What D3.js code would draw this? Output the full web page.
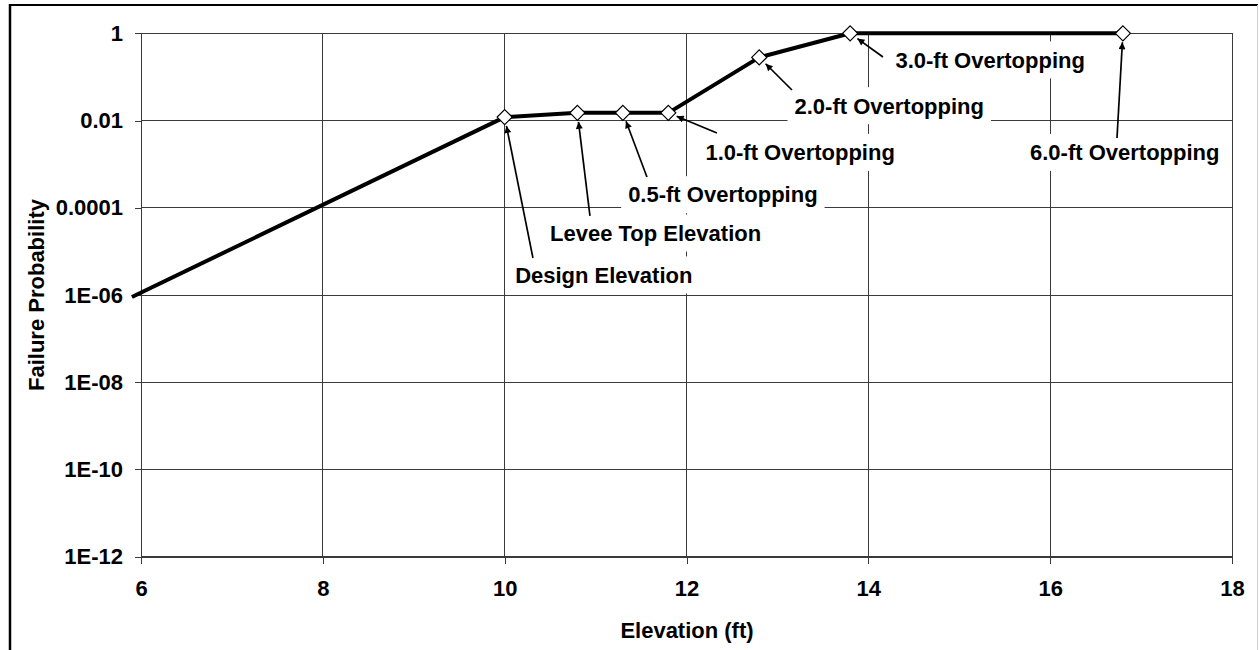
<!DOCTYPE html>
<html>
<head>
<meta charset="utf-8">
<script src="https://cdn.jsdelivr.net/npm/d3@7"></script>
<style>
  html, body { margin: 0; padding: 0; background: #fff; }
  svg { display: block; }
  text { font-family: "Liberation Sans", Arial, sans-serif; font-weight: bold; fill: #000; }
</style>
</head>
<body>
<svg id="chart" width="1259" height="650"></svg>
<script>
// ---------- data ----------
const elevation   = [5.9, 10, 10.8, 11.3, 11.8, 12.8, 13.8, 16.8];
const probability = [9e-7, 0.012, 0.015, 0.015, 0.015, 0.28, 1, 1];
const showMarker  = [false, true, true, true, true, true, true, true];

const xTicks = [6, 8, 10, 12, 14, 16, 18];
const yTicks = [1, 1e-2, 1e-4, 1e-6, 1e-8, 1e-10, 1e-12];
const yTickLabels = ["1", "0.01", "0.0001", "1E-06", "1E-08", "1E-10", "1E-12"];

const xTitle = "Elevation (ft)";
const yTitle = "Failure Probability";

// annotation texts, the point each arrow points to, label centre and arrow tail (data units)
const annText   = ["Design Elevation", "Levee Top Elevation", "0.5-ft Overtopping", "1.0-ft Overtopping",
                   "2.0-ft Overtopping", "3.0-ft Overtopping", "6.0-ft Overtopping"];
const annPoint  = [1, 2, 3, 4, 5, 6, 7];
const annLabelX = [11.09, 11.66, 12.40, 13.25, 14.23, 15.34, 16.82];
const annLabelP = [10**-5.54, 10**-4.58, 10**-3.70, 10**-2.73, 10**-1.66, 10**-0.61, 10**-2.73];
const annTailX  = [10.311, 10.938, 11.565, 12.335, 13.160, 14.161, 16.735];
const annTailP  = [10**-5.151, 10**-4.188, 10**-3.294, 10**-2.286, 10**-1.300, 10**-0.543, 10**-2.40];

// ---------- layout ----------
const svg = d3.select("#chart");
const L = 141, R = 1232, T = 33.3, B = 556.7;
const FS = 22;

const x = d3.scaleLinear().domain([6, 18]).range([L, R]);
const y = d3.scaleLog().domain([1e-12, 1]).range([B, T]);

// outer frame
svg.append("line").attr("x1", 10).attr("y1", 4).attr("x2", 10).attr("y2", 650)
  .attr("stroke", "#000").attr("stroke-width", 2.5);
svg.append("line").attr("x1", 9).attr("y1", 5).attr("x2", 1258).attr("y2", 5)
  .attr("stroke", "#000").attr("stroke-width", 2.2);
svg.append("line").attr("x1", 1257.5).attr("y1", 5).attr("x2", 1257.5).attr("y2", 650)
  .attr("stroke", "#d0d0d0").attr("stroke-width", 1);

// grid
const grid = svg.append("g").attr("stroke", "#3a3a3a").attr("stroke-width", 1).attr("shape-rendering", "crispEdges");
grid.selectAll("line.h").data(yTicks).join("line").attr("class", "h")
  .attr("x1", L).attr("x2", R).attr("y1", d => y(d)).attr("y2", d => y(d));
grid.selectAll("line.v").data(xTicks).join("line").attr("class", "v")
  .attr("y1", T).attr("y2", B).attr("x1", d => x(d)).attr("x2", d => x(d));

// axes
const xAxis = d3.axisBottom(x).tickValues(xTicks).tickFormat(d3.format("d"))
  .tickSize(7).tickPadding(17).tickSizeOuter(0);
const gx = svg.append("g").attr("transform", `translate(0,${B})`).call(xAxis);
const yAxis = d3.axisLeft(y).tickValues(yTicks).tickFormat((d, i) => yTickLabels[i])
  .tickSize(6).tickPadding(12).tickSizeOuter(0);
const gy = svg.append("g").attr("transform", `translate(${L},0)`).call(yAxis);
[gx, gy].forEach(g => {
  g.selectAll("path, line").attr("stroke", "#3a3a3a").attr("shape-rendering", "crispEdges");
  g.selectAll("text").style("font-family", '"Liberation Sans", Arial, sans-serif')
    .style("font-weight", "bold").style("font-size", FS + "px").attr("fill", "#000");
});

// axis titles
svg.append("text").attr("x", (L + R) / 2 + 0.5).attr("y", 638).attr("text-anchor", "middle")
  .style("font-size", FS + "px").text(xTitle);
svg.append("text").attr("transform", `translate(44,${(T + B) / 2}) rotate(-90)`)
  .attr("text-anchor", "middle").style("font-size", FS + "px").text(yTitle);

// annotation labels with white boxes
const ann = annText.map((t, i) => ({ t, i }));
const labels = svg.append("g");
labels.selectAll("g").data(ann).join("g").each(function (d) {
  const g = d3.select(this);
  const cx = x(annLabelX[d.i]), cy = y(annLabelP[d.i]);
  const txt = g.append("text").attr("x", cx).attr("y", cy + 7.8).attr("text-anchor", "middle")
    .style("font-size", FS + "px").text(d.t);
  const bb = txt.node().getBBox();
  g.insert("rect", "text").attr("x", bb.x - 7).attr("y", cy - 18.5)
    .attr("width", bb.width + 14).attr("height", 37).attr("fill", "#fff");
});

// arrows
svg.append("defs").append("marker").attr("id", "arr")
  .attr("viewBox", "0 0 10 10").attr("refX", 10).attr("refY", 5)
  .attr("markerWidth", 10).attr("markerHeight", 7).attr("markerUnits", "userSpaceOnUse")
  .attr("orient", "auto")
  .append("path").attr("d", "M0,0 L10,5 L0,10 Z").attr("fill", "#000");

svg.append("g").selectAll("line").data(ann).join("line").each(function (d) {
  const p = annPoint[d.i];
  const px = x(elevation[p]), py = y(probability[p]);
  const tx = x(annTailX[d.i]), ty = y(annTailP[d.i]);
  const len = Math.hypot(tx - px, ty - py);
  const off = 9;
  d3.select(this).attr("x1", tx).attr("y1", ty)
    .attr("x2", px + (tx - px) / len * off).attr("y2", py + (ty - py) / len * off)
    .attr("stroke", "#000").attr("stroke-width", 1.7).attr("marker-end", "url(#arr)");
});

// series line
const pts = elevation.map((e, i) => ({ e, p: probability[i], m: showMarker[i] }));
svg.append("path").datum(pts)
  .attr("d", d3.line().x(d => x(d.e)).y(d => y(d.p)))
  .attr("fill", "none").attr("stroke", "#000").attr("stroke-width", 4).attr("stroke-linejoin", "round");

// diamond markers
const h = 7.5;
svg.append("g").selectAll("path").data(pts.filter(d => d.m)).join("path")
  .attr("transform", d => `translate(${x(d.e)},${y(d.p)})`)
  .attr("d", `M0,${-h}L${h},0L0,${h}L${-h},0Z`)
  .attr("fill", "#fff").attr("stroke", "#000").attr("stroke-width", 1.2);
</script>
</body>
</html>
